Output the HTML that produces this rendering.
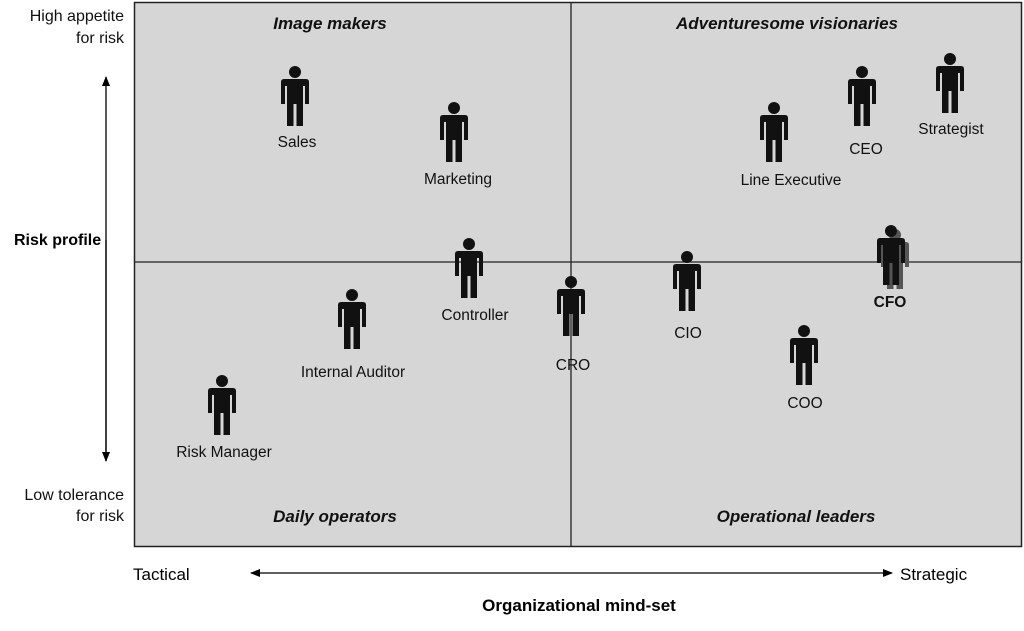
<!DOCTYPE html><html><head><style>
body{margin:0;width:1024px;height:626px;background:#fff;font-family:"Liberation Sans",sans-serif;overflow:hidden}
</style></head><body>
<svg width="1024" height="626" xmlns="http://www.w3.org/2000/svg" font-family="Liberation Sans, sans-serif">
<defs>
<marker id="a" markerWidth="10" markerHeight="10" refX="9" refY="5" orient="auto" markerUnits="userSpaceOnUse"><path d="M0,1 L10,5 L0,9 z" fill="#000"/></marker>
<g id="p">
<circle cx="0" cy="6" r="6"/>
<path d="M-14,16 Q-14,13 -11,13 L11,13 Q14,13 14,16 L14,38 L10,38 L10,20 L8,20 L8,60 L1.5,60 L1.5,38 L-1.5,38 L-1.5,60 L-8,60 L-8,20 L-10,20 L-10,38 L-14,38 Z"/>
</g>
</defs>
<rect x="134.5" y="2.5" width="887" height="544" fill="#d6d6d6" stroke="#222" stroke-width="1.5"/>
<line x1="571" y1="2" x2="571" y2="547" stroke="#222" stroke-width="1.3"/>
<line x1="134" y1="262" x2="1022" y2="262" stroke="#222" stroke-width="1.3"/>
<g font-size="17" font-weight="bold" font-style="italic" text-anchor="middle" fill="#111">
<text x="330" y="29">Image makers</text>
<text x="787" y="29">Adventuresome visionaries</text>
<text x="335" y="522">Daily operators</text>
<text x="796" y="522">Operational leaders</text>
</g>
<g fill="#111">
<use href="#p" x="295" y="66"/><use href="#p" x="454" y="102"/><use href="#p" x="469" y="238"/>
<use href="#p" x="352" y="289"/><use href="#p" x="222" y="375"/><use href="#p" x="571" y="276"/>
<use href="#p" x="687" y="251"/><use href="#p" x="804" y="325"/><use href="#p" x="774" y="102"/>
<use href="#p" x="862" y="66"/><use href="#p" x="950" y="53"/>
<use href="#p" x="895" y="229" fill="#555"/><use href="#p" x="891" y="225"/>
</g>
<g font-size="15.5" text-anchor="middle" fill="#111">
<text x="297" y="147">Sales</text><text x="458" y="184">Marketing</text>
<text x="475" y="320">Controller</text><text x="353" y="377">Internal Auditor</text>
<text x="224" y="457">Risk Manager</text><text x="573" y="370">CRO</text>
<text x="688" y="338">CIO</text><text x="805" y="408">COO</text>
<text x="791" y="185">Line Executive</text><text x="866" y="154">CEO</text>
<text x="951" y="134">Strategist</text>
<text x="890" y="307" font-weight="bold">CFO</text>
</g>
<g font-size="16" text-anchor="end" fill="#111">
<text x="124" y="21">High appetite</text><text x="124" y="43">for risk</text>
<text x="124" y="500">Low tolerance</text><text x="124" y="521">for risk</text>
</g>
<line x1="106" y1="461" x2="106" y2="77" stroke="#000" stroke-width="1.3" marker-end="url(#a)"/>
<line x1="106" y1="240" x2="106" y2="461" stroke="#000" stroke-width="1.3" marker-end="url(#a)"/>
<text x="14" y="245" font-size="16" font-weight="bold">Risk profile</text>
<line x1="600" y1="573" x2="251" y2="573" stroke="#000" stroke-width="1.3" marker-end="url(#a)"/>
<line x1="600" y1="573" x2="892" y2="573" stroke="#000" stroke-width="1.3" marker-end="url(#a)"/>
<text x="133" y="580" font-size="17">Tactical</text>
<text x="900" y="580" font-size="17">Strategic</text>
<text x="579" y="611" font-size="17" font-weight="bold" text-anchor="middle">Organizational mind-set</text>
</svg>
</body></html>
